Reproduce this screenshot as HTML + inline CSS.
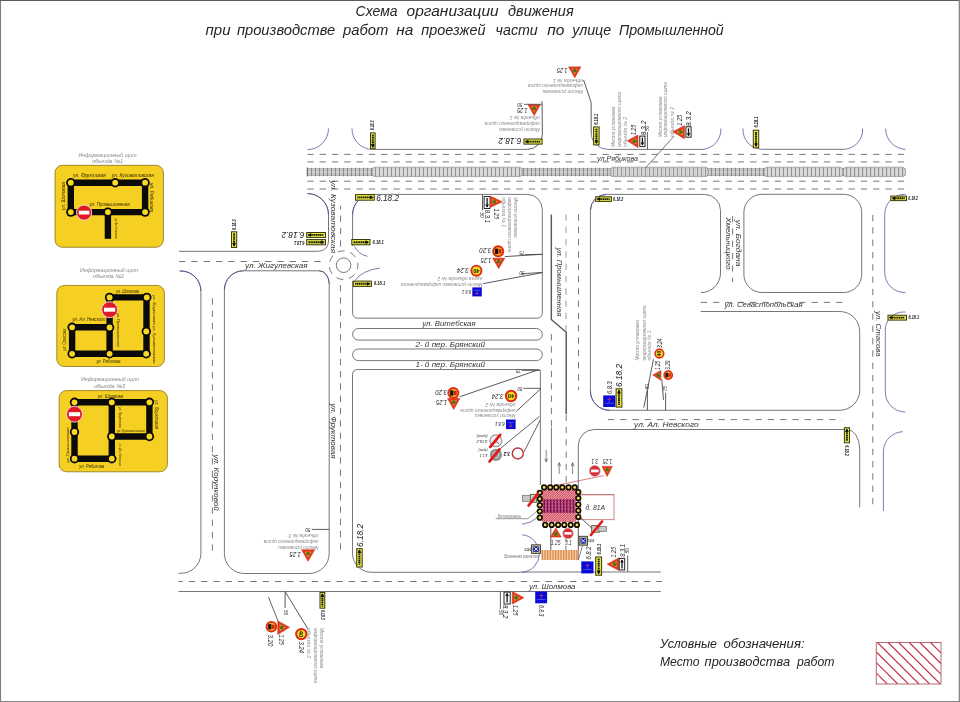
<!DOCTYPE html>
<html><head><meta charset="utf-8"><title>Схема организации движения</title>
<style>
html,body{margin:0;padding:0;background:#fff;}
body{width:960px;height:702px;overflow:hidden;}
svg{display:block;font-family:"Liberation Sans",sans-serif;font-style:italic;will-change:transform;transform:translateZ(0);}
</style></head><body>
<svg width="960" height="702" viewBox="0 0 960 702">
<path d="M0.5,702 V0" stroke="#7c7c7c" stroke-width="1.1" fill="none"/>
<path d="M0,0.5 H960" stroke="#5c5c5c" stroke-width="1.1" fill="none"/>
<path d="M959.35,0 V702" stroke="#858585" stroke-width="1.3" fill="none"/>
<path d="M0,701.5 H960" stroke="#858585" stroke-width="1" fill="none"/>
<text x="355.6" y="16.0" font-size="15" fill="#262626" textLength="42.0" lengthAdjust="spacingAndGlyphs">Схема</text>
<text x="406.6" y="16.0" font-size="15" fill="#262626" textLength="92.1" lengthAdjust="spacingAndGlyphs">организации</text>
<text x="508.1" y="16.0" font-size="15" fill="#262626" textLength="65.6" lengthAdjust="spacingAndGlyphs">движения</text>
<text x="205.6" y="34.5" font-size="15" fill="#262626" textLength="25.0" lengthAdjust="spacingAndGlyphs">при</text>
<text x="236.9" y="34.5" font-size="15" fill="#262626" textLength="98.4" lengthAdjust="spacingAndGlyphs">производстве</text>
<text x="343.1" y="34.5" font-size="15" fill="#262626" textLength="45.3" lengthAdjust="spacingAndGlyphs">работ</text>
<text x="396.3" y="34.5" font-size="15" fill="#262626" textLength="17.1" lengthAdjust="spacingAndGlyphs">на</text>
<text x="421.3" y="34.5" font-size="15" fill="#262626" textLength="64.2" lengthAdjust="spacingAndGlyphs">проезжей</text>
<text x="495.6" y="34.5" font-size="15" fill="#262626" textLength="42.2" lengthAdjust="spacingAndGlyphs">части</text>
<text x="547.2" y="34.5" font-size="15" fill="#262626" textLength="17.2" lengthAdjust="spacingAndGlyphs">по</text>
<text x="572.2" y="34.5" font-size="15" fill="#262626" textLength="39.0" lengthAdjust="spacingAndGlyphs">улице</text>
<text x="619.0" y="34.5" font-size="15" fill="#262626" textLength="104.7" lengthAdjust="spacingAndGlyphs">Промышленной</text>
<text x="660.0" y="647.8" font-size="12.6" fill="#262626" textLength="57.0" lengthAdjust="spacingAndGlyphs">Условные</text>
<text x="723.5" y="647.8" font-size="12.6" fill="#262626" textLength="81.1" lengthAdjust="spacingAndGlyphs">обозначения:</text>
<text x="660.0" y="665.5" font-size="12.6" fill="#262626" textLength="39.4" lengthAdjust="spacingAndGlyphs">Место</text>
<text x="704.6" y="665.5" font-size="12.6" fill="#262626" textLength="85.4" lengthAdjust="spacingAndGlyphs">производства</text>
<text x="796.9" y="665.5" font-size="12.6" fill="#262626" textLength="37.5" lengthAdjust="spacingAndGlyphs">работ</text>
<defs><clipPath id="lg"><rect x="876.3" y="642.5" width="64.7" height="41.5"/></clipPath></defs>
<g clip-path="url(#lg)" stroke="#c02e48" stroke-width="1.1">
<line x1="813.9" y1="642.5" x2="855.4" y2="684"/>
<line x1="824.5" y1="642.5" x2="866.0" y2="684"/>
<line x1="835.1" y1="642.5" x2="876.6" y2="684"/>
<line x1="845.7" y1="642.5" x2="887.2" y2="684"/>
<line x1="856.3" y1="642.5" x2="897.8" y2="684"/>
<line x1="866.9" y1="642.5" x2="908.4" y2="684"/>
<line x1="877.5" y1="642.5" x2="919.0" y2="684"/>
<line x1="888.1" y1="642.5" x2="929.6" y2="684"/>
<line x1="898.7" y1="642.5" x2="940.2" y2="684"/>
<line x1="909.3" y1="642.5" x2="950.8" y2="684"/>
<line x1="919.9" y1="642.5" x2="961.4" y2="684"/>
<line x1="930.5" y1="642.5" x2="972.0" y2="684"/>
<line x1="941.1" y1="642.5" x2="982.6" y2="684"/>
<line x1="951.7" y1="642.5" x2="993.2" y2="684"/>
</g>
<rect x="876.3" y="642.5" width="64.7" height="41.5" fill="none" stroke="#b86a70" stroke-width="1"/>
<text x="78.5" y="156.5" font-size="5.6" fill="#8a8a90" textLength="58.0" lengthAdjust="spacingAndGlyphs">Информационный щит</text>
<text x="92.0" y="163.4" font-size="5.6" fill="#8a8a90" textLength="31.0" lengthAdjust="spacingAndGlyphs">объезда №1</text>
<rect x="55" y="165.3" width="108.4" height="82" rx="7.5" ry="7.5" fill="#f5cf22" stroke="#7a6210" stroke-width="0.7"/>
<line x1="70.8" y1="182.7" x2="145.1" y2="182.7" stroke="#0a0a0a" stroke-width="6.4" stroke-linecap="butt"/>
<line x1="70.8" y1="182.7" x2="70.8" y2="212.1" stroke="#0a0a0a" stroke-width="6.4" stroke-linecap="butt"/>
<line x1="145.1" y1="182.7" x2="145.1" y2="212.1" stroke="#0a0a0a" stroke-width="6.4" stroke-linecap="butt"/>
<line x1="70.8" y1="212.1" x2="145.1" y2="212.1" stroke="#0a0a0a" stroke-width="6.4" stroke-linecap="butt"/>
<line x1="107.9" y1="212.1" x2="107.9" y2="238.8" stroke="#0a0a0a" stroke-width="6.4" stroke-linecap="butt"/>
<circle cx="70.8" cy="182.7" r="4.7" fill="#0a0a0a"/>
<circle cx="70.8" cy="182.7" r="2.9" fill="#f8d822"/>
<circle cx="115.2" cy="182.7" r="4.7" fill="#0a0a0a"/>
<circle cx="115.2" cy="182.7" r="2.9" fill="#f8d822"/>
<circle cx="145.1" cy="182.7" r="4.7" fill="#0a0a0a"/>
<circle cx="145.1" cy="182.7" r="2.9" fill="#f8d822"/>
<circle cx="70.8" cy="212.1" r="4.7" fill="#0a0a0a"/>
<circle cx="70.8" cy="212.1" r="2.9" fill="#f8d822"/>
<circle cx="107.9" cy="212.1" r="4.7" fill="#0a0a0a"/>
<circle cx="107.9" cy="212.1" r="2.9" fill="#f8d822"/>
<circle cx="145.1" cy="212.1" r="4.7" fill="#0a0a0a"/>
<circle cx="145.1" cy="212.1" r="2.9" fill="#f8d822"/>
<circle cx="84.1" cy="212.6" r="7.6" fill="#df1a24" stroke="#fbe4e4" stroke-width="0.9"/>
<rect x="78.8" y="210.7" width="10.6" height="3.8" fill="#fff"/>
<text x="73.3" y="177.0" font-size="4.6" fill="#3a3000" textLength="32.5" lengthAdjust="spacingAndGlyphs">ул. Фруктовая</text>
<text x="111.8" y="177.0" font-size="4.6" fill="#3a3000" textLength="42.0" lengthAdjust="spacingAndGlyphs">ул. Кузоватовская</text>
<text x="89.6" y="206.2" font-size="4.6" fill="#3a3000" textLength="40.0" lengthAdjust="spacingAndGlyphs">ул. Промышленная</text>
<text x="64.6" y="210.0" font-size="4.6" fill="#3a3000" textLength="28.0" lengthAdjust="spacingAndGlyphs" transform="rotate(-90 64.6 210.0)">ул. Шолмова</text>
<text x="150.4" y="183.0" font-size="4.6" fill="#3a3000" textLength="29.0" lengthAdjust="spacingAndGlyphs" transform="rotate(90 150.4 183.0)">ул. Рябикова</text>
<text x="114.5" y="218.6" font-size="4.2" fill="#3a3000" textLength="20.0" lengthAdjust="spacingAndGlyphs" transform="rotate(90 114.5 218.6)">ул. Ал. Невского</text>
<text x="80.0" y="271.5" font-size="5.6" fill="#8a8a90" textLength="58.0" lengthAdjust="spacingAndGlyphs">Информационный щит</text>
<text x="93.0" y="278.4" font-size="5.6" fill="#8a8a90" textLength="31.0" lengthAdjust="spacingAndGlyphs">объезда №2</text>
<rect x="56.8" y="285.4" width="107.6" height="81.1" rx="7.5" ry="7.5" fill="#f5cf22" stroke="#7a6210" stroke-width="0.7"/>
<line x1="109.6" y1="297.4" x2="146.8" y2="297.4" stroke="#0a0a0a" stroke-width="6.4" stroke-linecap="butt"/>
<line x1="146.5" y1="297.4" x2="146.5" y2="353.8" stroke="#0a0a0a" stroke-width="6.4" stroke-linecap="butt"/>
<line x1="72.1" y1="353.8" x2="146.3" y2="353.8" stroke="#0a0a0a" stroke-width="6.4" stroke-linecap="butt"/>
<line x1="72.1" y1="327.3" x2="72.1" y2="353.8" stroke="#0a0a0a" stroke-width="6.4" stroke-linecap="butt"/>
<line x1="72.1" y1="327.3" x2="109.6" y2="327.3" stroke="#0a0a0a" stroke-width="6.4" stroke-linecap="butt"/>
<line x1="109.6" y1="297.4" x2="109.6" y2="353.8" stroke="#0a0a0a" stroke-width="6.4" stroke-linecap="butt"/>
<circle cx="109.6" cy="297.4" r="4.7" fill="#0a0a0a"/>
<circle cx="109.6" cy="297.4" r="2.9" fill="#f8d822"/>
<circle cx="146.8" cy="297.4" r="4.7" fill="#0a0a0a"/>
<circle cx="146.8" cy="297.4" r="2.9" fill="#f8d822"/>
<circle cx="72.1" cy="327.3" r="4.7" fill="#0a0a0a"/>
<circle cx="72.1" cy="327.3" r="2.9" fill="#f8d822"/>
<circle cx="109.6" cy="327.5" r="4.7" fill="#0a0a0a"/>
<circle cx="109.6" cy="327.5" r="2.9" fill="#f8d822"/>
<circle cx="146.3" cy="331.4" r="4.7" fill="#0a0a0a"/>
<circle cx="146.3" cy="331.4" r="2.9" fill="#f8d822"/>
<circle cx="72.1" cy="353.8" r="4.7" fill="#0a0a0a"/>
<circle cx="72.1" cy="353.8" r="2.9" fill="#f8d822"/>
<circle cx="109.6" cy="353.8" r="4.7" fill="#0a0a0a"/>
<circle cx="109.6" cy="353.8" r="2.9" fill="#f8d822"/>
<circle cx="146.2" cy="353.8" r="4.7" fill="#0a0a0a"/>
<circle cx="146.2" cy="353.8" r="2.9" fill="#f8d822"/>
<circle cx="109.6" cy="309.7" r="8" fill="#df1a24" stroke="#fbe4e4" stroke-width="0.9"/>
<rect x="104.0" y="307.7" width="11.2" height="4.0" fill="#fff"/>
<text x="116.0" y="292.6" font-size="4.6" fill="#3a3000" textLength="23.0" lengthAdjust="spacingAndGlyphs">ул. Шолмова</text>
<text x="72.5" y="321.2" font-size="4.6" fill="#3a3000" textLength="33.0" lengthAdjust="spacingAndGlyphs">ул. Ал. Невского</text>
<text x="96.4" y="362.6" font-size="4.6" fill="#3a3000" textLength="24.0" lengthAdjust="spacingAndGlyphs">ул. Рябикова</text>
<text x="65.6" y="350.7" font-size="4.6" fill="#3a3000" textLength="22.0" lengthAdjust="spacingAndGlyphs" transform="rotate(-90 65.6 350.7)">ул. Стасова</text>
<text x="117.1" y="313.0" font-size="4.2" fill="#3a3000" textLength="33.5" lengthAdjust="spacingAndGlyphs" transform="rotate(90 117.1 313.0)">ул. Промышленная</text>
<text x="152.6" y="295.0" font-size="4.4" fill="#3a3000" textLength="68.5" lengthAdjust="spacingAndGlyphs" transform="rotate(90 152.6 295.0)">ул. Фруктовая  ул. Кузоватовская</text>
<text x="81.0" y="381.0" font-size="5.6" fill="#8a8a90" textLength="58.0" lengthAdjust="spacingAndGlyphs">Информационный щит</text>
<text x="94.0" y="387.6" font-size="5.6" fill="#8a8a90" textLength="31.0" lengthAdjust="spacingAndGlyphs">объезда №3</text>
<rect x="59.1" y="390.6" width="108.3" height="81.2" rx="7.5" ry="7.5" fill="#f5cf22" stroke="#7a6210" stroke-width="0.7"/>
<line x1="74.5" y1="402.3" x2="149.4" y2="402.3" stroke="#0a0a0a" stroke-width="6.4" stroke-linecap="butt"/>
<line x1="74.5" y1="402.3" x2="74.5" y2="458.7" stroke="#0a0a0a" stroke-width="6.4" stroke-linecap="butt"/>
<line x1="74.5" y1="458.7" x2="111.8" y2="458.7" stroke="#0a0a0a" stroke-width="6.4" stroke-linecap="butt"/>
<line x1="111.8" y1="402.3" x2="111.8" y2="458.7" stroke="#0a0a0a" stroke-width="6.4" stroke-linecap="butt"/>
<line x1="111.8" y1="436.5" x2="149.4" y2="436.5" stroke="#0a0a0a" stroke-width="6.4" stroke-linecap="butt"/>
<line x1="149.4" y1="402.3" x2="149.4" y2="436.5" stroke="#0a0a0a" stroke-width="6.4" stroke-linecap="butt"/>
<circle cx="74.5" cy="402.3" r="4.7" fill="#0a0a0a"/>
<circle cx="74.5" cy="402.3" r="2.9" fill="#f8d822"/>
<circle cx="111.8" cy="402.3" r="4.7" fill="#0a0a0a"/>
<circle cx="111.8" cy="402.3" r="2.9" fill="#f8d822"/>
<circle cx="149.4" cy="402.3" r="4.7" fill="#0a0a0a"/>
<circle cx="149.4" cy="402.3" r="2.9" fill="#f8d822"/>
<circle cx="74.5" cy="432" r="4.7" fill="#0a0a0a"/>
<circle cx="74.5" cy="432" r="2.9" fill="#f8d822"/>
<circle cx="111.8" cy="436.5" r="4.7" fill="#0a0a0a"/>
<circle cx="111.8" cy="436.5" r="2.9" fill="#f8d822"/>
<circle cx="149.4" cy="436.5" r="4.7" fill="#0a0a0a"/>
<circle cx="149.4" cy="436.5" r="2.9" fill="#f8d822"/>
<circle cx="74.5" cy="458.7" r="4.7" fill="#0a0a0a"/>
<circle cx="74.5" cy="458.7" r="2.9" fill="#f8d822"/>
<circle cx="111.8" cy="458.7" r="4.7" fill="#0a0a0a"/>
<circle cx="111.8" cy="458.7" r="2.9" fill="#f8d822"/>
<circle cx="74.5" cy="414.2" r="8" fill="#df1a24" stroke="#fbe4e4" stroke-width="0.9"/>
<rect x="68.9" y="412.2" width="11.2" height="4.0" fill="#fff"/>
<text x="98.0" y="397.9" font-size="4.6" fill="#3a3000" textLength="25.0" lengthAdjust="spacingAndGlyphs">ул. Шолмова</text>
<text x="79.3" y="467.5" font-size="4.6" fill="#3a3000" textLength="25.0" lengthAdjust="spacingAndGlyphs">ул. Рябикова</text>
<text x="117.0" y="432.3" font-size="4.2" fill="#3a3000" textLength="28.0" lengthAdjust="spacingAndGlyphs">ул. Кузоватовская</text>
<text x="154.6" y="400.0" font-size="4.6" fill="#3a3000" textLength="29.0" lengthAdjust="spacingAndGlyphs" transform="rotate(90 154.6 400.0)">ул. Фруктовая</text>
<text x="118.8" y="407.0" font-size="4.2" fill="#3a3000" textLength="21.0" lengthAdjust="spacingAndGlyphs" transform="rotate(90 118.8 407.0)">ул. Фруктовая</text>
<text x="118.8" y="443.6" font-size="4.2" fill="#3a3000" textLength="22.3" lengthAdjust="spacingAndGlyphs" transform="rotate(90 118.8 443.6)">ул. Ал. Невского</text>
<text x="68.6" y="462.4" font-size="4.4" fill="#3a3000" textLength="35.0" lengthAdjust="spacingAndGlyphs" transform="rotate(-90 68.6 462.4)">ул. Промышленная</text>
<rect x="307" y="168.6" width="598.5" height="6.9" fill="#d4d4d4"/>
<path d="M307,168.6 H905.5 M307,175.5 H905.5" stroke="#8a8a8a" stroke-width="0.6" fill="none"/>
<path d="M307,170.5 H905.5 M307,173.7 H905.5" stroke="#a2a2a2" stroke-width="0.5" fill="none"/>
<line x1="307" y1="172.05" x2="905.5" y2="172.05" stroke="#747474" stroke-width="8.4" stroke-dasharray="0.7 3.3"/>
<rect x="372" y="167.2" width="150.3" height="9.4" rx="3" ry="4.7" fill="#dcdcdc" fill-opacity="0.8" stroke="#77778a" stroke-width="0.6"/>
<line x1="375" y1="171.9" x2="520.3" y2="171.9" stroke="#7a7a7a" stroke-width="8.6" stroke-dasharray="0.7 3.3"/>
<rect x="610.3" y="167.2" width="98.0" height="9.4" rx="3" ry="4.7" fill="#dcdcdc" fill-opacity="0.8" stroke="#77778a" stroke-width="0.6"/>
<line x1="613.3" y1="171.9" x2="706.3" y2="171.9" stroke="#7a7a7a" stroke-width="8.6" stroke-dasharray="0.7 3.3"/>
<rect x="764" y="167.2" width="79.0" height="9.4" rx="3" ry="4.7" fill="#dcdcdc" fill-opacity="0.8" stroke="#77778a" stroke-width="0.6"/>
<line x1="767" y1="171.9" x2="841" y2="171.9" stroke="#7a7a7a" stroke-width="8.6" stroke-dasharray="0.7 3.3"/>
<rect x="843" y="167.2" width="62.5" height="9.4" rx="3" ry="4.7" fill="#dcdcdc" fill-opacity="0.8" stroke="#77778a" stroke-width="0.6"/>
<line x1="846" y1="171.9" x2="903.5" y2="171.9" stroke="#7a7a7a" stroke-width="8.6" stroke-dasharray="0.7 3.3"/>
<line x1="307.2" y1="167.6" x2="307.2" y2="176.4" stroke="#555" stroke-width="0.8"/>
<line x1="307.0" y1="154.4" x2="905.5" y2="154.4" stroke="#787878" stroke-width="1.0" stroke-dasharray="6.35 5.95" stroke-dashoffset="-0.3"/>
<line x1="307.0" y1="161.9" x2="905.5" y2="161.9" stroke="#787878" stroke-width="1.0" stroke-dasharray="6.35 5.95" stroke-dashoffset="-0.3"/>
<line x1="307.0" y1="181.2" x2="905.5" y2="181.2" stroke="#787878" stroke-width="1.0" stroke-dasharray="6.35 5.95" stroke-dashoffset="-0.3"/>
<line x1="307.0" y1="189.0" x2="905.5" y2="189.0" stroke="#787878" stroke-width="1.0" stroke-dasharray="6.35 5.95" stroke-dashoffset="-0.3"/>
<path d="M328.5,128.5 A21,21 0 0 1 307.5,149.6" stroke="#44448c" stroke-width="0.7" fill="none" />
<path d="M352,128.5 A20.6,20.6 0 0 0 372.6,149.4" stroke="#44448c" stroke-width="0.7" fill="none" />
<path d="M372.6,149.4 H527.5" stroke="#53535a" stroke-width="0.8" fill="none" />
<path d="M527.5,149.4 A15.2,15.2 0 0 0 542.4,134.2 L542,101" stroke="#3c3c42" stroke-width="0.85" fill="none" />
<path d="M591.2,133 A16.6,16.6 0 0 0 607.8,149.4" stroke="#44448c" stroke-width="0.7" fill="none" />
<path d="M591.2,133 L591.1,102.4 L583.6,80" stroke="#3c3c42" stroke-width="0.85" fill="none" />
<path d="M607.8,149.4 H703" stroke="#53535a" stroke-width="0.8" fill="none" />
<path d="M703,149.4 A20,20 0 0 0 720.9,128.5" stroke="#44448c" stroke-width="0.7" fill="none" />
<path d="M743,128.5 A19.5,19.5 0 0 0 761.5,149.3" stroke="#44448c" stroke-width="0.7" fill="none" />
<path d="M761.5,149.3 H844" stroke="#53535a" stroke-width="0.8" fill="none" />
<path d="M844,149.3 A19.5,19.5 0 0 0 862.6,128.5" stroke="#44448c" stroke-width="0.7" fill="none" />
<path d="M885.6,128.5 A20.6,20.6 0 0 0 905.6,149.3" stroke="#44448c" stroke-width="0.7" fill="none" />
<path d="M307.5,193.6 A21,21 0 0 1 328.5,214.6 V241.3 A10,10 0 0 1 318.5,251.3 H179" stroke="#53535a" stroke-width="0.8" fill="none" />
<path d="M307.5,193.6 A21,21 0 0 1 328.5,214.6" stroke="#44448c" stroke-width="0.7" fill="none" />
<line x1="179.0" y1="261.5" x2="321.0" y2="261.5" stroke="#787878" stroke-width="1.0" stroke-dasharray="6.35 5.95" stroke-dashoffset="0"/>
<path d="M179.7,271 H181 A20,20 0 0 1 200.9,291 V553.5 A20,20 0 0 1 180.8,573.3 H178.5" stroke="#53535a" stroke-width="0.8" fill="none" />
<path d="M243.4,270.8 H319.2 A10,13 0 0 1 329.2,283.8 V553.5 A20,20 0 0 1 309.2,573.5 H244.4 A20,20 0 0 1 224.4,553.5 V289.8 A19,19 0 0 1 243.4,270.8Z" stroke="#53535a" stroke-width="0.8" fill="none" />
<path d="M319.2,270.8 A10,13 0 0 1 329.2,283.8" stroke="#44448c" stroke-width="0.7" fill="none" />
<path d="M243.4,270.8 A19,19 0 0 0 224.4,289.8" stroke="#44448c" stroke-width="0.7" fill="none" />
<path d="M179.7,271 H181 A20,20 0 0 1 200.9,291" stroke="#44448c" stroke-width="0.7" fill="none" />
<line x1="212.4" y1="298.3" x2="212.4" y2="553.0" stroke="#787878" stroke-width="1.0" stroke-dasharray="6.35 5.95" stroke-dashoffset="0"/>
<line x1="340.6" y1="205.6" x2="340.6" y2="246.6" stroke="#787878" stroke-width="1.0" stroke-dasharray="6.35 5.95" stroke-dashoffset="2.3"/>
<line x1="340.5" y1="285.0" x2="340.5" y2="552.0" stroke="#787878" stroke-width="1.0" stroke-dasharray="6.35 5.95" stroke-dashoffset="0"/>
<circle cx="343.6" cy="265.2" r="7.3" fill="none" stroke="#53535a" stroke-width="0.8"/>
<circle cx="343.6" cy="265.2" r="14.3" fill="none" stroke="#6a6a6a" stroke-width="0.9" stroke-dasharray="7 5.8" stroke-dashoffset="3"/>
<path d="M354.4,246.3 Q358.5,254.5 367.5,256.3" stroke="#44448c" stroke-width="0.7" fill="none" />
<path d="M380,268.1 Q362,270.2 355,280.6" stroke="#44448c" stroke-width="0.7" fill="none" />
<path d="M352.6,246 V214.4 A20,20 0 0 1 372.6,194.4 H527.3 A15,15 0 0 1 542.3,209.4 V313.2 A5,5 0 0 1 537.3,318.2 H357.6 A5,5 0 0 1 352.6,313.2 V281" stroke="#53535a" stroke-width="0.8" fill="none" />
<path d="M372.6,194.4 A20,20 0 0 0 352.6,214.4" stroke="#44448c" stroke-width="0.7" fill="none" />
<rect x="352.6" y="328.5" width="189.7" height="11.6" rx="5.8" fill="none" stroke="#53535a" stroke-width="0.8"/>
<rect x="352.6" y="349" width="189.7" height="11.6" rx="5.8" fill="none" stroke="#53535a" stroke-width="0.8"/>
<path d="M540.4,485 V371.5 A2,2 0 0 0 538.4,369.5 H357.5 A5,5 0 0 0 352.5,374.5 V553.5 A19,19 0 0 0 371.5,572.3 H521" stroke="#53535a" stroke-width="0.8" fill="none" />
<path d="M521,572 H660.8" stroke="#53535a" stroke-width="0.8" fill="none" />
<line x1="178.5" y1="581.5" x2="662.0" y2="581.5" stroke="#787878" stroke-width="1.0" stroke-dasharray="6.35 5.95" stroke-dashoffset="2"/>
<path d="M178.5,591.5 H660.8" stroke="#53535a" stroke-width="0.8" fill="none" />
<path d="M701,292.6 A19.5,19.5 0 0 0 720.5,273 V210.4 A16,16 0 0 0 704.5,194.4 H606.4 A16,16 0 0 0 590.4,210.4 V391 A19.4,19.4 0 0 0 609.8,410.3 H839.7 A20,20 0 0 0 859.7,390.3 V331.5 A20,20 0 0 0 839.7,311.5 H700.8" stroke="#53535a" stroke-width="0.8" fill="none" />
<path d="M606.4,194.4 A16,16 0 0 0 590.4,210.4" stroke="#44448c" stroke-width="0.7" fill="none" />
<path d="M590.4,391 A19.4,19.4 0 0 0 609.8,410.3" stroke="#44448c" stroke-width="0.7" fill="none" />
<line x1="700.8" y1="302.4" x2="843.0" y2="302.4" stroke="#787878" stroke-width="1.0" stroke-dasharray="6.35 5.95" stroke-dashoffset="0"/>
<rect x="743.9" y="194.3" width="117.8" height="98.2" rx="18" fill="none" stroke="#53535a" stroke-width="0.8"/>
<path d="M905.6,194.3 H904.7 A20,20 0 0 0 884.7,214.3 V272.5 A20,20 0 0 0 904.7,292.5 H905.6" stroke="#44448c" stroke-width="0.7" fill="none" />
<path d="M905.6,312 H903.3 A18,18 0 0 0 885.3,330 V392 A20,20 0 0 0 905.3,412" stroke="#44448c" stroke-width="0.7" fill="none" />
<path d="M903,431.7 A20,20 0 0 0 883.4,451.7 V511" stroke="#44448c" stroke-width="0.7" fill="none" />
<line x1="732.6" y1="216.0" x2="732.6" y2="282.0" stroke="#787878" stroke-width="1.0" stroke-dasharray="6.35 5.95" stroke-dashoffset="0"/>
<line x1="872.8" y1="215.0" x2="872.8" y2="508.0" stroke="#787878" stroke-width="1.0" stroke-dasharray="6.35 5.95" stroke-dashoffset="0"/>
<line x1="607.8" y1="419.6" x2="842.0" y2="419.6" stroke="#787878" stroke-width="1.0" stroke-dasharray="6.35 5.95" stroke-dashoffset="0"/>
<path d="M578.3,486 V445.5 A16,16 0 0 1 594.3,429.5 H847 A12.7,19.5 0 0 1 859.7,449 V507.2" stroke="#53535a" stroke-width="0.8" fill="none" />
<line x1="566.0" y1="214.4" x2="566.0" y2="332.0" stroke="#9a9a9a" stroke-width="1.0" stroke-dasharray="6.35 5.95" stroke-dashoffset="0"/>
<line x1="566.2" y1="414.6" x2="566.2" y2="486.0" stroke="#787878" stroke-width="1.0" stroke-dasharray="6.35 5.95" stroke-dashoffset="0"/>
<line x1="578.5" y1="214.4" x2="578.5" y2="390.0" stroke="#787878" stroke-width="1.0" stroke-dasharray="6.35 5.95" stroke-dashoffset="0"/>
<line x1="551.4" y1="334.0" x2="551.4" y2="427.0" stroke="#787878" stroke-width="1.0" stroke-dasharray="6.35 5.95" stroke-dashoffset="0"/>
<line x1="551.4" y1="427.4" x2="551.4" y2="486.0" stroke="#53535a" stroke-width="0.8" />
<path d="M551.3,214.4 V319.5 L566.2,332.3 V414" stroke="#5c5c5c" stroke-width="1.5" fill="none" />
<line x1="546.2" y1="449.9" x2="546.2" y2="462.0" stroke="#555" stroke-width="0.7" />
<path d="M544.7,458.5 L546.2,462.0 L547.7,458.5" stroke="#555" stroke-width="0.7" fill="none" />
<line x1="559.2" y1="474.0" x2="559.2" y2="462.7" stroke="#555" stroke-width="0.7" />
<path d="M557.7,466.2 L559.2,462.7 L560.7,466.2" stroke="#555" stroke-width="0.7" fill="none" />
<line x1="572.6" y1="474.0" x2="572.6" y2="462.7" stroke="#555" stroke-width="0.7" />
<path d="M571.1,466.2 L572.6,462.7 L574.1,466.2" stroke="#555" stroke-width="0.7" fill="none" />
<text x="597.0" y="160.9" font-size="7.9" fill="#333" textLength="41.0" lengthAdjust="spacingAndGlyphs">ул.Рябикова</text>
<text x="245.0" y="267.7" font-size="7.9" fill="#333" textLength="62.7" lengthAdjust="spacingAndGlyphs">ул. Жигулевская</text>
<text x="422.3" y="326.1" font-size="7.9" fill="#333" textLength="53.3" lengthAdjust="spacingAndGlyphs">ул. Витебская</text>
<text x="415.4" y="346.6" font-size="7.9" fill="#333" textLength="69.7" lengthAdjust="spacingAndGlyphs">2- й пер. Брянский</text>
<text x="415.4" y="367.2" font-size="7.9" fill="#333" textLength="69.7" lengthAdjust="spacingAndGlyphs">1- й пер. Брянский</text>
<text x="724.4" y="307.4" font-size="7.9" fill="#333" textLength="78.4" lengthAdjust="spacingAndGlyphs">ул. Севастопольская</text>
<text x="634.1" y="427.2" font-size="7.9" fill="#333" textLength="64.5" lengthAdjust="spacingAndGlyphs">ул. Ал. Невского</text>
<text x="529.0" y="588.6" font-size="7.9" fill="#333" textLength="46.4" lengthAdjust="spacingAndGlyphs">ул. Шолмова</text>
<text x="330.8" y="180.5" font-size="7.9" fill="#333" textLength="72.6" lengthAdjust="spacingAndGlyphs" transform="rotate(90 330.8 180.5)">ул. Кузоватовская</text>
<text x="556.5" y="247.4" font-size="7.9" fill="#333" textLength="69.0" lengthAdjust="spacingAndGlyphs" transform="rotate(90 556.5 247.4)">ул. Промышленная</text>
<text x="725.8" y="217.5" font-size="7.9" fill="#333" textLength="52.0" lengthAdjust="spacingAndGlyphs" transform="rotate(90 725.8 217.5)">Хмельницкого</text>
<text x="735.7" y="219.8" font-size="7.9" fill="#333" textLength="46.7" lengthAdjust="spacingAndGlyphs" transform="rotate(90 735.7 219.8)">ул. Богдана</text>
<text x="875.8" y="311.0" font-size="7.9" fill="#333" textLength="45.5" lengthAdjust="spacingAndGlyphs" transform="rotate(90 875.8 311.0)">ул. Стасова</text>
<text x="331.3" y="403.3" font-size="7.9" fill="#333" textLength="55.2" lengthAdjust="spacingAndGlyphs" transform="rotate(90 331.3 403.3)">ул. Фруктовая</text>
<text x="213.9" y="454.6" font-size="7.9" fill="#333" textLength="56.2" lengthAdjust="spacingAndGlyphs" transform="rotate(90 213.9 454.6)">ул. Корунковой</text>
<rect x="370.5" y="132.9" width="4.6" height="15.8" fill="#e9e648" stroke="#3a3a0c" stroke-width="1"/>
<line x1="372.8" y1="134.7" x2="372.8" y2="146.9" stroke="#15150a" stroke-width="1.9" stroke-dasharray="1.4 0.45"/>
<path d="M372.8,147.9 l-1.9,-3.6 h3.8z" fill="#111"/>
<text x="374.4" y="130.3" font-size="4.6" fill="#111" textLength="9.8" lengthAdjust="spacingAndGlyphs" transform="rotate(-90 374.4 130.3)" font-weight="bold">6.18.3</text>
<rect x="523.9" y="139.0" width="18.2" height="5.1" fill="#e9e648" stroke="#3a3a0c" stroke-width="1"/>
<line x1="525.7" y1="141.6" x2="540.3" y2="141.6" stroke="#15150a" stroke-width="1.9" stroke-dasharray="1.4 0.45"/>
<path d="M524.7,141.6 l3.6,-1.9 v3.8z" fill="#111"/>
<text x="521.4" y="138.4" font-size="9.0" fill="#222" textLength="23.0" lengthAdjust="spacingAndGlyphs" transform="rotate(180 521.4 138.4)">6.18.2</text>
<path d="M528.2,104.8L540.3,104.8L534.2,115.6Z" fill="#dc3a1c" stroke="#dc3a1c" stroke-width="0.7" stroke-linejoin="round"/>
<path d="M531.2,106.6L537.3,106.6L534.2,112.0Z" fill="#f0a82a"/>
<circle cx="534.2" cy="108.4" r="1.9" fill="#5a6a1e"/>
<text x="527.5" y="107.6" font-size="8.0" fill="#222" textLength="10.3" lengthAdjust="spacingAndGlyphs" transform="rotate(180 527.5 107.6)">1.25</text>
<text x="522.5" y="102.7" font-size="5.4" fill="#334" textLength="5.2" lengthAdjust="spacingAndGlyphs" transform="rotate(180 522.5 102.7)">50</text>
<line x1="524.0" y1="104.3" x2="541.7" y2="104.3" stroke="#3c3c42" stroke-width="0.8" />
<text x="539.7" y="116.1" font-size="5.0" fill="#8a8a90" textLength="30.0" lengthAdjust="spacingAndGlyphs" transform="rotate(180 539.7 116.1)">объезда № 1</text>
<text x="539.7" y="122.2" font-size="5.0" fill="#8a8a90" textLength="55.0" lengthAdjust="spacingAndGlyphs" transform="rotate(180 539.7 122.2)">информационного щита</text>
<text x="539.7" y="127.6" font-size="5.0" fill="#8a8a90" textLength="40.5" lengthAdjust="spacingAndGlyphs" transform="rotate(180 539.7 127.6)">Место установки</text>
<path d="M568.7,66.9L580.9,66.9L574.8,77.7Z" fill="#dc3a1c" stroke="#dc3a1c" stroke-width="0.7" stroke-linejoin="round"/>
<path d="M571.8,68.7L577.8,68.7L574.8,74.1Z" fill="#f0a82a"/>
<circle cx="574.8" cy="70.5" r="1.9" fill="#5a6a1e"/>
<text x="567.4" y="68.1" font-size="8.0" fill="#222" textLength="10.3" lengthAdjust="spacingAndGlyphs" transform="rotate(180 567.4 68.1)">1.25</text>
<text x="583.0" y="78.6" font-size="5.0" fill="#8a8a90" textLength="30.0" lengthAdjust="spacingAndGlyphs" transform="rotate(180 583.0 78.6)">объезда № 1</text>
<text x="583.0" y="84.3" font-size="5.0" fill="#8a8a90" textLength="55.0" lengthAdjust="spacingAndGlyphs" transform="rotate(180 583.0 84.3)">информационного щита</text>
<text x="583.0" y="90.0" font-size="5.0" fill="#8a8a90" textLength="40.5" lengthAdjust="spacingAndGlyphs" transform="rotate(180 583.0 90.0)">Место установки</text>
<rect x="593.6" y="126.9" width="5.5" height="18.0" fill="#e9e648" stroke="#3a3a0c" stroke-width="1"/>
<line x1="596.4" y1="128.7" x2="596.4" y2="143.1" stroke="#15150a" stroke-width="1.9" stroke-dasharray="1.4 0.45"/>
<path d="M596.4,144.1 l-1.9,-3.6 h3.8z" fill="#111"/>
<text x="598.1" y="124.7" font-size="4.6" fill="#111" textLength="11.0" lengthAdjust="spacingAndGlyphs" transform="rotate(-90 598.1 124.7)" font-weight="bold">6.18.1</text>
<text x="615.3" y="147.0" font-size="5.0" fill="#8a8a90" textLength="40.5" lengthAdjust="spacingAndGlyphs" transform="rotate(-90 615.3 147.0)">Место установки</text>
<text x="621.1" y="147.0" font-size="5.0" fill="#8a8a90" textLength="55.0" lengthAdjust="spacingAndGlyphs" transform="rotate(-90 621.1 147.0)">информационного щита</text>
<text x="626.8" y="147.0" font-size="5.0" fill="#8a8a90" textLength="30.0" lengthAdjust="spacingAndGlyphs" transform="rotate(-90 626.8 147.0)">объезда № 2</text>
<path d="M627.3,140.8L638.0,135.1L638.0,147.6Z" fill="#dc3a1c" stroke="#dc3a1c" stroke-width="0.7" stroke-linejoin="round"/>
<path d="M630.9,141.0L636.2,138.1L636.2,144.4Z" fill="#f0a82a"/>
<circle cx="634.4" cy="141.2" r="1.9" fill="#5a6a1e"/>
<text x="636.0" y="135.1" font-size="8.0" fill="#222" textLength="10.4" lengthAdjust="spacingAndGlyphs" transform="rotate(-90 636.0 135.1)">1.25</text>
<rect x="639.8" y="136.1" width="5.2" height="10.5" fill="#fff" stroke="#111" stroke-width="0.9"/>
<line x1="642.4" y1="137.6" x2="642.4" y2="145.1" stroke="#111" stroke-width="1.3"/>
<path d="M642.4,145.6 l-1.9,-3 h3.8z" fill="#111"/>
<text x="645.6" y="135.6" font-size="8.0" fill="#222" textLength="15.0" lengthAdjust="spacingAndGlyphs" transform="rotate(-90 645.6 135.6)">8.3.2</text>
<text x="649.3" y="131.0" font-size="5.4" fill="#334" textLength="5.2" lengthAdjust="spacingAndGlyphs" transform="rotate(-90 649.3 131.0)">50</text>
<line x1="647.4" y1="132.0" x2="647.4" y2="149.4" stroke="#3c3c42" stroke-width="0.85" />
<text x="661.7" y="137.0" font-size="5.0" fill="#8a8a90" textLength="40.5" lengthAdjust="spacingAndGlyphs" transform="rotate(-90 661.7 137.0)">Место установки</text>
<text x="667.4" y="137.0" font-size="5.0" fill="#8a8a90" textLength="55.0" lengthAdjust="spacingAndGlyphs" transform="rotate(-90 667.4 137.0)">информационного щита</text>
<text x="673.7" y="137.0" font-size="5.0" fill="#8a8a90" textLength="30.0" lengthAdjust="spacingAndGlyphs" transform="rotate(-90 673.7 137.0)">объезда № 2</text>
<path d="M672.9,131.7L684.4,125.7L684.4,138.8Z" fill="#dc3a1c" stroke="#dc3a1c" stroke-width="0.7" stroke-linejoin="round"/>
<path d="M676.7,131.9L682.5,128.9L682.5,135.4Z" fill="#f0a82a"/>
<circle cx="680.6" cy="132.0" r="1.9" fill="#5a6a1e"/>
<text x="681.9" y="125.7" font-size="8.0" fill="#222" textLength="10.8" lengthAdjust="spacingAndGlyphs" transform="rotate(-90 681.9 125.7)">1.25</text>
<rect x="685.9" y="126.8" width="5.2" height="10.4" fill="#fff" stroke="#111" stroke-width="0.9"/>
<line x1="688.5" y1="128.3" x2="688.5" y2="135.7" stroke="#111" stroke-width="1.3"/>
<path d="M688.5,136.2 l-1.9,-3 h3.8z" fill="#111"/>
<text x="691.2" y="126.2" font-size="8.0" fill="#222" textLength="15.0" lengthAdjust="spacingAndGlyphs" transform="rotate(-90 691.2 126.2)">8.3.2</text>
<line x1="674.0" y1="136.1" x2="645.4" y2="168.0" stroke="#53535a" stroke-width="0.8" />
<rect x="753.3" y="130.2" width="5.4" height="17.6" fill="#e9e648" stroke="#3a3a0c" stroke-width="1"/>
<line x1="756.0" y1="132.0" x2="756.0" y2="146.0" stroke="#15150a" stroke-width="1.9" stroke-dasharray="1.4 0.45"/>
<path d="M756.0,147.0 l-1.9,-3.6 h3.8z" fill="#111"/>
<text x="757.6" y="127.5" font-size="4.6" fill="#111" textLength="11.0" lengthAdjust="spacingAndGlyphs" transform="rotate(-90 757.6 127.5)" font-weight="bold">6.18.1</text>
<rect x="355.5" y="194.6" width="18.8" height="5.6" fill="#e9e648" stroke="#3a3a0c" stroke-width="1"/>
<line x1="357.3" y1="197.4" x2="372.5" y2="197.4" stroke="#15150a" stroke-width="1.9" stroke-dasharray="1.4 0.45"/>
<path d="M373.5,197.4 l-3.6,-1.9 v3.8z" fill="#111"/>
<text x="376.2" y="200.7" font-size="9.0" fill="#222" textLength="22.8" lengthAdjust="spacingAndGlyphs">6.18.2</text>
<rect x="595.7" y="196.8" width="15.7" height="4.6" fill="#e9e648" stroke="#3a3a0c" stroke-width="1"/>
<line x1="597.5" y1="199.1" x2="609.6" y2="199.1" stroke="#15150a" stroke-width="1.9" stroke-dasharray="1.4 0.45"/>
<path d="M596.5,199.1 l3.6,-1.9 v3.8z" fill="#111"/>
<text x="613.1" y="201.0" font-size="4.6" fill="#111" textLength="10.3" lengthAdjust="spacingAndGlyphs" font-weight="bold">6.18.2</text>
<rect x="890.8" y="196.1" width="15.7" height="4.5" fill="#e9e648" stroke="#3a3a0c" stroke-width="1"/>
<line x1="892.6" y1="198.3" x2="904.7" y2="198.3" stroke="#15150a" stroke-width="1.9" stroke-dasharray="1.4 0.45"/>
<path d="M891.6,198.3 l3.6,-1.9 v3.8z" fill="#111"/>
<text x="908.3" y="200.0" font-size="4.6" fill="#111" textLength="9.7" lengthAdjust="spacingAndGlyphs" font-weight="bold">6.18.2</text>
<rect x="888.0" y="315.2" width="18.5" height="4.9" fill="#e9e648" stroke="#3a3a0c" stroke-width="1"/>
<line x1="889.8" y1="317.6" x2="904.7" y2="317.6" stroke="#15150a" stroke-width="1.9" stroke-dasharray="1.4 0.45"/>
<path d="M888.8,317.6 l3.6,-1.9 v3.8z" fill="#111"/>
<text x="908.5" y="319.4" font-size="4.6" fill="#111" textLength="10.5" lengthAdjust="spacingAndGlyphs" font-weight="bold">6.18.1</text>
<rect x="306.7" y="232.5" width="18.8" height="4.9" fill="#e9e648" stroke="#3a3a0c" stroke-width="1"/>
<line x1="308.5" y1="234.9" x2="323.7" y2="234.9" stroke="#15150a" stroke-width="1.9" stroke-dasharray="1.4 0.45"/>
<path d="M307.5,234.9 l3.6,-1.9 v3.8z" fill="#111"/>
<text x="304.6" y="231.7" font-size="9.0" fill="#222" textLength="23.0" lengthAdjust="spacingAndGlyphs" transform="rotate(180 304.6 231.7)">6.18.2</text>
<rect x="306.7" y="239.6" width="18.8" height="5.2" fill="#e9e648" stroke="#3a3a0c" stroke-width="1"/>
<line x1="308.5" y1="242.2" x2="323.7" y2="242.2" stroke="#15150a" stroke-width="1.9" stroke-dasharray="1.4 0.45"/>
<path d="M324.7,242.2 l-3.6,-1.9 v3.8z" fill="#111"/>
<text x="304.6" y="240.6" font-size="4.6" fill="#111" textLength="10.5" lengthAdjust="spacingAndGlyphs" transform="rotate(180 304.6 240.6)" font-weight="bold">6.18.1</text>
<rect x="351.8" y="239.5" width="18.2" height="5.3" fill="#e9e648" stroke="#3a3a0c" stroke-width="1"/>
<line x1="353.6" y1="242.2" x2="368.2" y2="242.2" stroke="#15150a" stroke-width="1.9" stroke-dasharray="1.4 0.45"/>
<path d="M369.2,242.2 l-3.6,-1.9 v3.8z" fill="#111"/>
<text x="372.6" y="243.8" font-size="4.6" fill="#111" textLength="11.2" lengthAdjust="spacingAndGlyphs" font-weight="bold">6.18.1</text>
<rect x="353.3" y="281.1" width="18.1" height="5.3" fill="#e9e648" stroke="#3a3a0c" stroke-width="1"/>
<line x1="355.1" y1="283.8" x2="369.6" y2="283.8" stroke="#15150a" stroke-width="1.9" stroke-dasharray="1.4 0.45"/>
<path d="M370.6,283.8 l-3.6,-1.9 v3.8z" fill="#111"/>
<text x="374.0" y="285.4" font-size="4.6" fill="#111" textLength="11.2" lengthAdjust="spacingAndGlyphs" font-weight="bold">6.18.1</text>
<rect x="231.5" y="231.8" width="5.2" height="15.7" fill="#e9e648" stroke="#3a3a0c" stroke-width="1"/>
<line x1="234.1" y1="233.6" x2="234.1" y2="245.7" stroke="#15150a" stroke-width="1.9" stroke-dasharray="1.4 0.45"/>
<path d="M234.1,246.7 l-1.9,-3.6 h3.8z" fill="#111"/>
<text x="235.7" y="230.0" font-size="4.6" fill="#111" textLength="10.6" lengthAdjust="spacingAndGlyphs" transform="rotate(-90 235.7 230.0)" font-weight="bold">6.18.3</text>
<line x1="482.5" y1="194.4" x2="482.5" y2="210.4" stroke="#3c3c42" stroke-width="0.85" />
<rect x="484.1" y="196.6" width="5.9" height="11.9" fill="#fff" stroke="#111" stroke-width="0.9"/>
<line x1="487.1" y1="198.1" x2="487.1" y2="207.0" stroke="#111" stroke-width="1.3"/>
<path d="M487.1,207.5 l-1.9,-3 h3.8z" fill="#111"/>
<path d="M490.6,196.3L490.6,207.3L502.1,201.8Z" fill="#dc3a1c" stroke="#dc3a1c" stroke-width="0.7" stroke-linejoin="round"/>
<path d="M492.5,199.1L492.5,204.6L498.3,201.8Z" fill="#f0a82a"/>
<circle cx="494.4" cy="201.8" r="1.9" fill="#5a6a1e"/>
<text x="493.7" y="208.6" font-size="8.0" fill="#222" textLength="10.4" lengthAdjust="spacingAndGlyphs" transform="rotate(90 493.7 208.6)">1.25</text>
<text x="485.1" y="209.8" font-size="8.0" fill="#222" textLength="13.3" lengthAdjust="spacingAndGlyphs" transform="rotate(90 485.1 209.8)">8.3.1</text>
<text x="479.9" y="212.5" font-size="5.4" fill="#334" textLength="5.2" lengthAdjust="spacingAndGlyphs" transform="rotate(90 479.9 212.5)">50</text>
<text x="513.7" y="197.2" font-size="5.0" fill="#8a8a90" textLength="40.5" lengthAdjust="spacingAndGlyphs" transform="rotate(90 513.7 197.2)">Место установки</text>
<text x="508.2" y="197.2" font-size="5.0" fill="#8a8a90" textLength="55.0" lengthAdjust="spacingAndGlyphs" transform="rotate(90 508.2 197.2)">информационного щита</text>
<text x="501.9" y="197.2" font-size="5.0" fill="#8a8a90" textLength="30.0" lengthAdjust="spacingAndGlyphs" transform="rotate(90 501.9 197.2)">объезда № 1</text>
<circle cx="498.2" cy="251.3" r="6.0" fill="#dd2a14"/>
<circle cx="498.2" cy="251.3" r="4.1" fill="#f3b41c"/>
<rect x="494.9" y="248.6" width="3.3" height="5.4" fill="#151515"/>
<rect x="498.5" y="249.2" width="3.0" height="4.2" fill="#d8201a"/>
<text x="491.2" y="248.4" font-size="8.0" fill="#222" textLength="11.8" lengthAdjust="spacingAndGlyphs" transform="rotate(180 491.2 248.4)">3.20</text>
<path d="M492.7,258.2L504.8,258.2L498.7,268.6Z" fill="#dc3a1c" stroke="#dc3a1c" stroke-width="0.7" stroke-linejoin="round"/>
<path d="M495.7,259.9L501.8,259.9L498.7,265.1Z" fill="#f0a82a"/>
<circle cx="498.7" cy="261.7" r="1.9" fill="#5a6a1e"/>
<text x="491.2" y="258.4" font-size="8.0" fill="#222" textLength="10.3" lengthAdjust="spacingAndGlyphs" transform="rotate(180 491.2 258.4)">1.25</text>
<circle cx="476.4" cy="270.7" r="6.0" fill="#dd2a14"/>
<circle cx="476.4" cy="270.7" r="4.1" fill="#f6dc1e"/>
<text x="476.4" y="272.8" font-size="5.7" fill="#111" font-weight="bold" font-style="normal" text-anchor="middle" transform="rotate(180 476.4 270.7)">40</text>
<text x="468.8" y="267.9" font-size="8.0" fill="#222" textLength="11.8" lengthAdjust="spacingAndGlyphs" transform="rotate(180 468.8 267.9)">3.24</text>
<text x="482.6" y="277.4" font-size="5.0" fill="#8a8a90" textLength="45.0" lengthAdjust="spacingAndGlyphs" transform="rotate(180 482.6 277.4)">щита объезда № 2</text>
<text x="482.6" y="282.6" font-size="5.0" fill="#8a8a90" textLength="82.0" lengthAdjust="spacingAndGlyphs" transform="rotate(180 482.6 282.6)">Место установки информационного</text>
<rect x="472.3" y="287.4" width="9.5" height="9.0" fill="#0a0ad6"/>
<line x1="473.8" y1="290.3" x2="480.3" y2="290.3" stroke="#7a8cf0" stroke-width="0.5"/>
<line x1="477.1" y1="290.3" x2="477.1" y2="293.2" stroke="#8a5ad8" stroke-width="0.6"/>
<rect x="475.4" y="293.0" width="3.2" height="1.3" fill="#d42a7a"/>
<text x="471.0" y="290.0" font-size="5.6" fill="#222" textLength="9.0" lengthAdjust="spacingAndGlyphs" transform="rotate(180 471.0 290.0)">6.8.1</text>
<line x1="504.8" y1="256.6" x2="542.3" y2="254.3" stroke="#3c3c42" stroke-width="0.85" />
<line x1="524.9" y1="254.6" x2="542.3" y2="254.3" stroke="#3c3c42" stroke-width="0.8" />
<text x="524.5" y="251.4" font-size="5.4" fill="#334" textLength="5.2" lengthAdjust="spacingAndGlyphs" transform="rotate(180 524.5 251.4)">75</text>
<line x1="483.3" y1="283.6" x2="542.3" y2="272.6" stroke="#3c3c42" stroke-width="0.85" />
<line x1="521.0" y1="273.8" x2="542.3" y2="272.4" stroke="#3c3c42" stroke-width="0.8" />
<text x="524.5" y="270.5" font-size="5.4" fill="#334" textLength="5.2" lengthAdjust="spacingAndGlyphs" transform="rotate(180 524.5 270.5)">50</text>
<text x="639.2" y="360.5" font-size="5.0" fill="#8a8a90" textLength="40.5" lengthAdjust="spacingAndGlyphs" transform="rotate(-90 639.2 360.5)">Место установки</text>
<text x="645.6" y="360.5" font-size="5.0" fill="#8a8a90" textLength="55.0" lengthAdjust="spacingAndGlyphs" transform="rotate(-90 645.6 360.5)">информационного щита</text>
<text x="651.4" y="360.5" font-size="5.0" fill="#8a8a90" textLength="30.0" lengthAdjust="spacingAndGlyphs" transform="rotate(-90 651.4 360.5)">объезда № 1</text>
<circle cx="659.4" cy="353.6" r="5.1" fill="#dd2a14"/>
<circle cx="659.4" cy="353.6" r="3.5" fill="#f6dc1e"/>
<text x="659.4" y="355.3" font-size="4.8" fill="#111" font-weight="bold" font-style="normal" text-anchor="middle" transform="rotate(-90 659.4 353.6)">40</text>
<text x="661.5" y="348.0" font-size="6.5" fill="#222" textLength="9.5" lengthAdjust="spacingAndGlyphs" transform="rotate(-90 661.5 348.0)">3.24</text>
<path d="M652.8,374.9L660.9,370.6L660.9,380.3Z" fill="#dc3a1c" stroke="#dc3a1c" stroke-width="0.7" stroke-linejoin="round"/>
<path d="M655.5,375.1L659.5,372.9L659.5,377.8Z" fill="#f0a82a"/>
<circle cx="658.2" cy="375.3" r="1.9" fill="#5a6a1e"/>
<text x="659.6" y="369.7" font-size="6.5" fill="#222" textLength="8.6" lengthAdjust="spacingAndGlyphs" transform="rotate(-90 659.6 369.7)">1.25</text>
<circle cx="668.2" cy="375.1" r="4.9" fill="#dd2a14"/>
<circle cx="668.2" cy="375.1" r="3.3" fill="#f3b41c"/>
<rect x="665.5" y="372.9" width="2.7" height="4.4" fill="#151515"/>
<rect x="668.4" y="373.4" width="2.5" height="3.4" fill="#d8201a"/>
<text x="670.5" y="369.7" font-size="6.5" fill="#222" textLength="9.2" lengthAdjust="spacingAndGlyphs" transform="rotate(-90 670.5 369.7)">3.20</text>
<line x1="653.5" y1="359.2" x2="643.8" y2="407.6" stroke="#3c3c42" stroke-width="0.85" />
<line x1="647.4" y1="390.3" x2="647.4" y2="410.1" stroke="#3c3c42" stroke-width="0.85" />
<text x="649.3" y="389.3" font-size="5.4" fill="#334" textLength="5.2" lengthAdjust="spacingAndGlyphs" transform="rotate(-90 649.3 389.3)">50</text>
<line x1="661.8" y1="379.4" x2="663.5" y2="399.9" stroke="#3c3c42" stroke-width="0.85" />
<line x1="665.6" y1="392.8" x2="665.6" y2="410.1" stroke="#3c3c42" stroke-width="0.85" />
<text x="667.5" y="391.3" font-size="5.4" fill="#334" textLength="5.2" lengthAdjust="spacingAndGlyphs" transform="rotate(-90 667.5 391.3)">75</text>
<rect x="603.2" y="395.4" width="12.1" height="11.6" fill="#0a0ad6"/>
<line x1="604.7" y1="403.3" x2="613.8" y2="403.3" stroke="#7a8cf0" stroke-width="0.5"/>
<line x1="609.2" y1="399.5" x2="609.2" y2="403.3" stroke="#8a5ad8" stroke-width="0.6"/>
<rect x="607.6" y="398.5" width="3.2" height="1.3" fill="#d42a7a"/>
<text x="611.5" y="394.0" font-size="6.4" fill="#222" textLength="12.7" lengthAdjust="spacingAndGlyphs" transform="rotate(-90 611.5 394.0)">6.8.3</text>
<rect x="616.1" y="388.8" width="5.8" height="18.3" fill="#e9e648" stroke="#3a3a0c" stroke-width="1"/>
<line x1="619.0" y1="390.6" x2="619.0" y2="405.3" stroke="#15150a" stroke-width="1.9" stroke-dasharray="1.4 0.45"/>
<path d="M619.0,389.6 l-1.9,3.6 h3.8z" fill="#111"/>
<text x="622.0" y="387.0" font-size="9.0" fill="#222" textLength="23.0" lengthAdjust="spacingAndGlyphs" transform="rotate(-90 622.0 387.0)">6.18.2</text>
<rect x="844.4" y="427.7" width="5.1" height="15.1" fill="#e9e648" stroke="#3a3a0c" stroke-width="1"/>
<line x1="846.9" y1="429.5" x2="846.9" y2="441.0" stroke="#15150a" stroke-width="1.9" stroke-dasharray="1.4 0.45"/>
<path d="M846.9,428.5 l-1.9,3.6 h3.8z" fill="#111"/>
<text x="845.4" y="445.3" font-size="4.6" fill="#111" textLength="10.5" lengthAdjust="spacingAndGlyphs" transform="rotate(90 845.4 445.3)" font-weight="bold">6.18.2</text>
<circle cx="453.4" cy="393.0" r="6.0" fill="#dd2a14"/>
<circle cx="453.4" cy="393.0" r="4.1" fill="#f3b41c"/>
<rect x="450.1" y="390.3" width="3.3" height="5.4" fill="#151515"/>
<rect x="453.7" y="390.9" width="3.0" height="4.2" fill="#d8201a"/>
<text x="447.0" y="390.1" font-size="8.0" fill="#222" textLength="11.7" lengthAdjust="spacingAndGlyphs" transform="rotate(180 447.0 390.1)">3.20</text>
<path d="M447.6,398.6L459.8,398.6L453.7,409.4Z" fill="#dc3a1c" stroke="#dc3a1c" stroke-width="0.7" stroke-linejoin="round"/>
<path d="M450.7,400.4L456.8,400.4L453.7,405.8Z" fill="#f0a82a"/>
<circle cx="453.7" cy="402.2" r="1.9" fill="#5a6a1e"/>
<text x="447.0" y="400.1" font-size="8.0" fill="#222" textLength="10.7" lengthAdjust="spacingAndGlyphs" transform="rotate(180 447.0 400.1)">1.25</text>
<circle cx="511.1" cy="396.0" r="6.2" fill="#dd2a14"/>
<circle cx="511.1" cy="396.0" r="4.2" fill="#f6dc1e"/>
<text x="511.1" y="398.1" font-size="5.9" fill="#111" font-weight="bold" font-style="normal" text-anchor="middle" transform="rotate(180 511.1 396.0)">40</text>
<text x="503.6" y="393.6" font-size="8.0" fill="#222" textLength="11.7" lengthAdjust="spacingAndGlyphs" transform="rotate(180 503.6 393.6)">3.24</text>
<text x="515.4" y="403.4" font-size="5.0" fill="#8a8a90" textLength="30.0" lengthAdjust="spacingAndGlyphs" transform="rotate(180 515.4 403.4)">объезда № 2</text>
<text x="515.4" y="408.8" font-size="5.0" fill="#8a8a90" textLength="55.0" lengthAdjust="spacingAndGlyphs" transform="rotate(180 515.4 408.8)">информационного щита</text>
<text x="515.4" y="414.1" font-size="5.0" fill="#8a8a90" textLength="40.5" lengthAdjust="spacingAndGlyphs" transform="rotate(180 515.4 414.1)">Место установки</text>
<rect x="506.0" y="419.5" width="9.6" height="9.6" fill="#0a0ad6"/>
<line x1="507.5" y1="422.6" x2="514.1" y2="422.6" stroke="#7a8cf0" stroke-width="0.5"/>
<line x1="510.8" y1="422.6" x2="510.8" y2="425.7" stroke="#8a5ad8" stroke-width="0.6"/>
<rect x="509.2" y="425.5" width="3.2" height="1.3" fill="#d42a7a"/>
<text x="504.7" y="422.3" font-size="5.6" fill="#222" textLength="9.7" lengthAdjust="spacingAndGlyphs" transform="rotate(180 504.7 422.3)">6.8.1</text>
<circle cx="495.9" cy="440.8" r="5.9" fill="#f4f4f4" stroke="#9a9a9e" stroke-width="1.3"/>
<path d="M493.4,443.3 Q495.9,439.8 498.9,443.8" fill="none" stroke="#8a8a8a" stroke-width="1.2"/>
<line x1="490.3" y1="446.8" x2="500.2" y2="434.9" stroke="#e01a1a" stroke-width="2.8" stroke-linecap="round"/>
<circle cx="495.9" cy="454.9" r="6.1" fill="#8e9290"/>
<circle cx="495.9" cy="454.9" r="3.0" fill="none" stroke="#d8d8d8" stroke-width="1"/>
<line x1="489.6" y1="461.4" x2="499.6" y2="449.2" stroke="#e01a1a" stroke-width="2.8" stroke-linecap="round"/>
<text x="487.6" y="435.2" font-size="4.2" fill="#333" textLength="11.0" lengthAdjust="spacingAndGlyphs" transform="rotate(180 487.6 435.2)">(врем)</text>
<text x="487.6" y="440.1" font-size="4.2" fill="#333" textLength="11.0" lengthAdjust="spacingAndGlyphs" transform="rotate(180 487.6 440.1)">3.18.2</text>
<text x="487.6" y="449.1" font-size="4.2" fill="#333" textLength="9.0" lengthAdjust="spacingAndGlyphs" transform="rotate(180 487.6 449.1)">(врем)</text>
<text x="487.6" y="453.8" font-size="4.2" fill="#333" textLength="8.0" lengthAdjust="spacingAndGlyphs" transform="rotate(180 487.6 453.8)">4.1.1</text>
<circle cx="517.8" cy="453.4" r="5.5" fill="#fff" stroke="#c2343e" stroke-width="1.5"/>
<text x="510.0" y="451.9" font-size="5" fill="#111" textLength="6.4" lengthAdjust="spacingAndGlyphs" transform="rotate(180 510.0 451.9)" font-weight="bold">3.2</text>
<line x1="459.8" y1="396.7" x2="536.8" y2="370.4" stroke="#3c3c42" stroke-width="0.85" />
<line x1="521.8" y1="370.4" x2="540.4" y2="370.4" stroke="#3c3c42" stroke-width="0.8" />
<text x="521.0" y="369.3" font-size="5.4" fill="#334" textLength="5.2" lengthAdjust="spacingAndGlyphs" transform="rotate(180 521.0 369.3)">75</text>
<line x1="516.3" y1="411.4" x2="540.6" y2="389.0" stroke="#3c3c42" stroke-width="0.85" />
<line x1="523.3" y1="388.3" x2="540.6" y2="388.3" stroke="#3c3c42" stroke-width="0.8" />
<text x="522.5" y="387.1" font-size="5.4" fill="#334" textLength="5.2" lengthAdjust="spacingAndGlyphs" transform="rotate(180 522.5 387.1)">50</text>
<line x1="500.9" y1="448.0" x2="539.4" y2="416.5" stroke="#3c3c42" stroke-width="0.8" />
<line x1="524.0" y1="451.8" x2="540.0" y2="420.4" stroke="#3c3c42" stroke-width="0.8" />
<line x1="311.8" y1="529.4" x2="329.2" y2="529.4" stroke="#3c3c42" stroke-width="0.85" />
<text x="310.5" y="527.9" font-size="5.4" fill="#334" textLength="5.2" lengthAdjust="spacingAndGlyphs" transform="rotate(180 310.5 527.9)">50</text>
<text x="318.6" y="534.4" font-size="5.0" fill="#8a8a90" textLength="30.0" lengthAdjust="spacingAndGlyphs" transform="rotate(180 318.6 534.4)">объезда № 3</text>
<text x="318.6" y="540.1" font-size="5.0" fill="#8a8a90" textLength="55.0" lengthAdjust="spacingAndGlyphs" transform="rotate(180 318.6 540.1)">информационного щита</text>
<text x="318.6" y="546.1" font-size="5.0" fill="#8a8a90" textLength="40.5" lengthAdjust="spacingAndGlyphs" transform="rotate(180 318.6 546.1)">Место установки</text>
<path d="M301.6,549.8L314.6,549.8L308.1,561.2Z" fill="#dc3a1c" stroke="#dc3a1c" stroke-width="0.7" stroke-linejoin="round"/>
<path d="M304.9,551.7L311.4,551.7L308.1,557.4Z" fill="#f0a82a"/>
<circle cx="308.1" cy="553.6" r="1.9" fill="#5a6a1e"/>
<text x="300.7" y="551.8" font-size="8.0" fill="#222" textLength="11.1" lengthAdjust="spacingAndGlyphs" transform="rotate(180 300.7 551.8)">1.25</text>
<rect x="356.7" y="548.7" width="5.5" height="18.3" fill="#e9e648" stroke="#3a3a0c" stroke-width="1"/>
<line x1="359.4" y1="550.5" x2="359.4" y2="565.2" stroke="#15150a" stroke-width="1.9" stroke-dasharray="1.4 0.45"/>
<path d="M359.4,549.5 l-1.9,3.6 h3.8z" fill="#111"/>
<text x="363.4" y="547.0" font-size="9.0" fill="#222" textLength="23.0" lengthAdjust="spacingAndGlyphs" transform="rotate(-90 363.4 547.0)">6.18.2</text>
<rect x="320.0" y="592.5" width="4.8" height="15.7" fill="#e9e648" stroke="#3a3a0c" stroke-width="1"/>
<line x1="322.4" y1="594.3" x2="322.4" y2="606.4" stroke="#15150a" stroke-width="1.9" stroke-dasharray="1.4 0.45"/>
<path d="M322.4,593.3 l-1.9,3.6 h3.8z" fill="#111"/>
<text x="320.7" y="610.0" font-size="4.6" fill="#111" textLength="9.6" lengthAdjust="spacingAndGlyphs" transform="rotate(90 320.7 610.0)" font-weight="bold">6.18.3</text>
<line x1="285.1" y1="591.5" x2="285.1" y2="608.0" stroke="#3c3c42" stroke-width="0.85" />
<text x="283.9" y="610.0" font-size="5.4" fill="#334" textLength="5.2" lengthAdjust="spacingAndGlyphs" transform="rotate(90 283.9 610.0)">50</text>
<line x1="285.1" y1="591.5" x2="308.0" y2="629.2" stroke="#3c3c42" stroke-width="0.85" />
<line x1="268.5" y1="597.2" x2="278.5" y2="622.2" stroke="#3c3c42" stroke-width="0.8" />
<circle cx="271.4" cy="626.7" r="5.8" fill="#dd2a14"/>
<circle cx="271.4" cy="626.7" r="3.9" fill="#f3b41c"/>
<rect x="268.2" y="624.1" width="3.2" height="5.2" fill="#151515"/>
<rect x="271.7" y="624.7" width="2.9" height="4.1" fill="#d8201a"/>
<text x="267.9" y="634.4" font-size="8.0" fill="#222" textLength="11.9" lengthAdjust="spacingAndGlyphs" transform="rotate(90 267.9 634.4)">3.20</text>
<path d="M277.8,620.9L277.8,634.4L289.4,627.3Z" fill="#dc3a1c" stroke="#dc3a1c" stroke-width="0.7" stroke-linejoin="round"/>
<path d="M279.7,624.2L279.7,631.0L285.5,627.4Z" fill="#f0a82a"/>
<circle cx="281.7" cy="627.5" r="1.9" fill="#5a6a1e"/>
<text x="278.8" y="634.4" font-size="8.0" fill="#222" textLength="10.2" lengthAdjust="spacingAndGlyphs" transform="rotate(90 278.8 634.4)">1.25</text>
<circle cx="301.3" cy="634.1" r="6.2" fill="#dd2a14"/>
<circle cx="301.3" cy="634.1" r="4.2" fill="#f6dc1e"/>
<text x="301.3" y="636.2" font-size="5.9" fill="#111" font-weight="bold" font-style="normal" text-anchor="middle" transform="rotate(90 301.3 634.1)">40</text>
<text x="298.6" y="641.4" font-size="8.0" fill="#222" textLength="11.6" lengthAdjust="spacingAndGlyphs" transform="rotate(90 298.6 641.4)">3.24</text>
<text x="320.2" y="628.0" font-size="5.0" fill="#8a8a90" textLength="40.5" lengthAdjust="spacingAndGlyphs" transform="rotate(90 320.2 628.0)">Место установки</text>
<text x="313.8" y="628.0" font-size="5.0" fill="#8a8a90" textLength="55.0" lengthAdjust="spacingAndGlyphs" transform="rotate(90 313.8 628.0)">информационного щита</text>
<text x="307.4" y="628.0" font-size="5.0" fill="#8a8a90" textLength="30.0" lengthAdjust="spacingAndGlyphs" transform="rotate(90 307.4 628.0)">объезда № 2</text>
<line x1="500.4" y1="591.5" x2="500.4" y2="609.2" stroke="#3c3c42" stroke-width="0.85" />
<text x="498.5" y="610.0" font-size="5.4" fill="#334" textLength="5.2" lengthAdjust="spacingAndGlyphs" transform="rotate(90 498.5 610.0)">50</text>
<rect x="504.0" y="592.1" width="6.2" height="11.9" fill="#fff" stroke="#111" stroke-width="0.9"/>
<line x1="507.1" y1="593.6" x2="507.1" y2="602.5" stroke="#111" stroke-width="1.3"/>
<path d="M507.1,593.1 l-1.9,3 h3.8z" fill="#111"/>
<text x="503.1" y="605.0" font-size="8.0" fill="#222" textLength="13.5" lengthAdjust="spacingAndGlyphs" transform="rotate(90 503.1 605.0)">8.3.2</text>
<path d="M512.3,591.5L512.3,604.0L523.8,597.7Z" fill="#dc3a1c" stroke="#dc3a1c" stroke-width="0.7" stroke-linejoin="round"/>
<path d="M514.2,594.6L514.2,600.9L520.0,597.7Z" fill="#f0a82a"/>
<circle cx="516.1" cy="597.7" r="1.9" fill="#5a6a1e"/>
<text x="512.9" y="605.0" font-size="8.0" fill="#222" textLength="10.4" lengthAdjust="spacingAndGlyphs" transform="rotate(90 512.9 605.0)">1.25</text>
<rect x="535.2" y="591.5" width="11.9" height="11.8" fill="#0a0ad6"/>
<line x1="536.7" y1="599.5" x2="545.6" y2="599.5" stroke="#7a8cf0" stroke-width="0.5"/>
<line x1="541.2" y1="595.6" x2="541.2" y2="599.5" stroke="#8a5ad8" stroke-width="0.6"/>
<rect x="539.6" y="594.7" width="3.2" height="1.3" fill="#d42a7a"/>
<text x="539.2" y="605.0" font-size="6.4" fill="#222" textLength="11.5" lengthAdjust="spacingAndGlyphs" transform="rotate(90 539.2 605.0)">6.8.3</text>
<path d="M522,524.2 Q531,523.5 538,517" stroke="#44448c" stroke-width="0.7" fill="none" />
<path d="M522,534.8 A18.8,18.8 0 0 1 522,572.3" stroke="#44448c" stroke-width="0.7" fill="none" />
<text x="497.8" y="518.1" font-size="4.6" fill="#777" textLength="23.5" lengthAdjust="spacingAndGlyphs">Бетонировать</text>
<path d="M495.7,518.7 H527.7 L537.7,510.6" stroke="#555" stroke-width="0.6" fill="none" />
<text x="504.2" y="558.1" font-size="4.6" fill="#777" textLength="34.9" lengthAdjust="spacingAndGlyphs">Временная разметка</text>
<line x1="550.8" y1="486.0" x2="550.8" y2="560.0" stroke="#3c3c42" stroke-width="0.85" />
<line x1="578.3" y1="486.0" x2="578.3" y2="560.0" stroke="#3c3c42" stroke-width="0.85" />
<line x1="565.9" y1="486.0" x2="565.9" y2="560.0" stroke="#787878" stroke-width="1.0" stroke-dasharray="6 4" stroke-dashoffset="0"/>
<rect x="580.6" y="494.8" width="33.4" height="24.9" fill="#fff" stroke="#c06a66" stroke-width="0.8"/>
<text x="585.5" y="509.9" font-size="7.4" fill="#333" textLength="19.5" lengthAdjust="spacingAndGlyphs">д. 81А</text>
<defs><clipPath id="wz"><rect x="542" y="489.3" width="34.2" height="32.6"/></clipPath></defs>
<rect x="542" y="489.3" width="34.2" height="32.6" fill="#f3c2c6"/>
<g clip-path="url(#wz)" stroke="#c8283e" stroke-width="0.85">
<line x1="508.00" y1="521.9" x2="540.60" y2="489.3"/>
<line x1="509.75" y1="521.9" x2="542.35" y2="489.3"/>
<line x1="511.50" y1="521.9" x2="544.10" y2="489.3"/>
<line x1="513.25" y1="521.9" x2="545.85" y2="489.3"/>
<line x1="515.00" y1="521.9" x2="547.60" y2="489.3"/>
<line x1="516.75" y1="521.9" x2="549.35" y2="489.3"/>
<line x1="518.50" y1="521.9" x2="551.10" y2="489.3"/>
<line x1="520.25" y1="521.9" x2="552.85" y2="489.3"/>
<line x1="522.00" y1="521.9" x2="554.60" y2="489.3"/>
<line x1="523.75" y1="521.9" x2="556.35" y2="489.3"/>
<line x1="525.50" y1="521.9" x2="558.10" y2="489.3"/>
<line x1="527.25" y1="521.9" x2="559.85" y2="489.3"/>
<line x1="529.00" y1="521.9" x2="561.60" y2="489.3"/>
<line x1="530.75" y1="521.9" x2="563.35" y2="489.3"/>
<line x1="532.50" y1="521.9" x2="565.10" y2="489.3"/>
<line x1="534.25" y1="521.9" x2="566.85" y2="489.3"/>
<line x1="536.00" y1="521.9" x2="568.60" y2="489.3"/>
<line x1="537.75" y1="521.9" x2="570.35" y2="489.3"/>
<line x1="539.50" y1="521.9" x2="572.10" y2="489.3"/>
<line x1="541.25" y1="521.9" x2="573.85" y2="489.3"/>
<line x1="543.00" y1="521.9" x2="575.60" y2="489.3"/>
<line x1="544.75" y1="521.9" x2="577.35" y2="489.3"/>
<line x1="546.50" y1="521.9" x2="579.10" y2="489.3"/>
<line x1="548.25" y1="521.9" x2="580.85" y2="489.3"/>
<line x1="550.00" y1="521.9" x2="582.60" y2="489.3"/>
<line x1="551.75" y1="521.9" x2="584.35" y2="489.3"/>
<line x1="553.50" y1="521.9" x2="586.10" y2="489.3"/>
<line x1="555.25" y1="521.9" x2="587.85" y2="489.3"/>
<line x1="557.00" y1="521.9" x2="589.60" y2="489.3"/>
<line x1="558.75" y1="521.9" x2="591.35" y2="489.3"/>
<line x1="560.50" y1="521.9" x2="593.10" y2="489.3"/>
<line x1="562.25" y1="521.9" x2="594.85" y2="489.3"/>
<line x1="564.00" y1="521.9" x2="596.60" y2="489.3"/>
<line x1="565.75" y1="521.9" x2="598.35" y2="489.3"/>
<line x1="567.50" y1="521.9" x2="600.10" y2="489.3"/>
<line x1="569.25" y1="521.9" x2="601.85" y2="489.3"/>
<line x1="571.00" y1="521.9" x2="603.60" y2="489.3"/>
<line x1="572.75" y1="521.9" x2="605.35" y2="489.3"/>
<line x1="574.50" y1="521.9" x2="607.10" y2="489.3"/>
<line x1="576.25" y1="521.9" x2="608.85" y2="489.3"/>
<line x1="578.00" y1="521.9" x2="610.60" y2="489.3"/>
<line x1="579.75" y1="521.9" x2="612.35" y2="489.3"/>
<line x1="581.50" y1="521.9" x2="614.10" y2="489.3"/>
<line x1="583.25" y1="521.9" x2="615.85" y2="489.3"/>
<line x1="585.00" y1="521.9" x2="617.60" y2="489.3"/>
<line x1="586.75" y1="521.9" x2="619.35" y2="489.3"/>
<line x1="588.50" y1="521.9" x2="621.10" y2="489.3"/>
<line x1="590.25" y1="521.9" x2="622.85" y2="489.3"/>
<line x1="592.00" y1="521.9" x2="624.60" y2="489.3"/>
<line x1="593.75" y1="521.9" x2="626.35" y2="489.3"/>
<line x1="595.50" y1="521.9" x2="628.10" y2="489.3"/>
<line x1="597.25" y1="521.9" x2="629.85" y2="489.3"/>
<line x1="599.00" y1="521.9" x2="631.60" y2="489.3"/>
<line x1="600.75" y1="521.9" x2="633.35" y2="489.3"/>
<line x1="602.50" y1="521.9" x2="635.10" y2="489.3"/>
<line x1="604.25" y1="521.9" x2="636.85" y2="489.3"/>
<line x1="606.00" y1="521.9" x2="638.60" y2="489.3"/>
<line x1="607.75" y1="521.9" x2="640.35" y2="489.3"/>
<line x1="609.50" y1="521.9" x2="642.10" y2="489.3"/>
<line x1="611.25" y1="521.9" x2="643.85" y2="489.3"/>
</g>
<rect x="543" y="499.4" width="32" height="13.4" fill="#b03070" fill-opacity="0.55"/>
<rect x="543.55" y="499.4" width="1.5" height="13.4" fill="#6c0e50"/>
<rect x="546.78" y="499.4" width="1.5" height="13.4" fill="#6c0e50"/>
<rect x="550.01" y="499.4" width="1.5" height="13.4" fill="#6c0e50"/>
<rect x="553.24" y="499.4" width="1.5" height="13.4" fill="#6c0e50"/>
<rect x="556.47" y="499.4" width="1.5" height="13.4" fill="#6c0e50"/>
<rect x="559.70" y="499.4" width="1.5" height="13.4" fill="#6c0e50"/>
<rect x="562.93" y="499.4" width="1.5" height="13.4" fill="#6c0e50"/>
<rect x="566.16" y="499.4" width="1.5" height="13.4" fill="#6c0e50"/>
<rect x="569.39" y="499.4" width="1.5" height="13.4" fill="#6c0e50"/>
<rect x="572.62" y="499.4" width="1.5" height="13.4" fill="#6c0e50"/>
<path d="M543,502.3 H575 M543,505.6 H575 M543,509 H575" stroke="#e89ab8" stroke-width="0.5" stroke-dasharray="0.8 0.8"/>
<line x1="551.5" y1="486.4" x2="603.7" y2="475.6" stroke="#c84a4a" stroke-width="0.7" />
<line x1="579.7" y1="494.6" x2="614.0" y2="494.6" stroke="#c06a66" stroke-width="0.8" />
<circle cx="544.1" cy="487.4" r="3.1" fill="#140c00"/>
<circle cx="544.1" cy="487.4" r="1.4" fill="#f6e066"/>
<circle cx="550.2" cy="487.4" r="3.1" fill="#140c00"/>
<circle cx="550.2" cy="487.4" r="1.4" fill="#f6e066"/>
<circle cx="556.2" cy="487.4" r="3.1" fill="#140c00"/>
<circle cx="556.2" cy="487.4" r="1.4" fill="#f6e066"/>
<circle cx="562.3" cy="487.4" r="3.1" fill="#140c00"/>
<circle cx="562.3" cy="487.4" r="1.4" fill="#f6e066"/>
<circle cx="568.6" cy="487.4" r="3.1" fill="#140c00"/>
<circle cx="568.6" cy="487.4" r="1.4" fill="#f6e066"/>
<circle cx="574.7" cy="487.4" r="3.1" fill="#140c00"/>
<circle cx="574.7" cy="487.4" r="1.4" fill="#f6e066"/>
<circle cx="539.8" cy="492.8" r="3.1" fill="#140c00"/>
<circle cx="539.8" cy="492.8" r="1.4" fill="#f6e066"/>
<circle cx="539.8" cy="498.9" r="3.1" fill="#140c00"/>
<circle cx="539.8" cy="498.9" r="1.4" fill="#f6e066"/>
<circle cx="539.8" cy="505.2" r="3.1" fill="#140c00"/>
<circle cx="539.8" cy="505.2" r="1.4" fill="#f6e066"/>
<circle cx="539.8" cy="511.3" r="3.1" fill="#140c00"/>
<circle cx="539.8" cy="511.3" r="1.4" fill="#f6e066"/>
<circle cx="539.8" cy="517.7" r="3.1" fill="#140c00"/>
<circle cx="539.8" cy="517.7" r="1.4" fill="#f6e066"/>
<circle cx="578.3" cy="492.1" r="3.1" fill="#140c00"/>
<circle cx="578.3" cy="492.1" r="1.4" fill="#f6e066"/>
<circle cx="578.3" cy="498.2" r="3.1" fill="#140c00"/>
<circle cx="578.3" cy="498.2" r="1.4" fill="#f6e066"/>
<circle cx="578.3" cy="504.5" r="3.1" fill="#140c00"/>
<circle cx="578.3" cy="504.5" r="1.4" fill="#f6e066"/>
<circle cx="578.3" cy="510.6" r="3.1" fill="#140c00"/>
<circle cx="578.3" cy="510.6" r="1.4" fill="#f6e066"/>
<circle cx="578.3" cy="517" r="3.1" fill="#140c00"/>
<circle cx="578.3" cy="517" r="1.4" fill="#f6e066"/>
<circle cx="545.2" cy="524.9" r="3.1" fill="#140c00"/>
<circle cx="545.2" cy="524.9" r="1.4" fill="#f6e066"/>
<circle cx="551.7" cy="524.9" r="3.1" fill="#140c00"/>
<circle cx="551.7" cy="524.9" r="1.4" fill="#f6e066"/>
<circle cx="558.1" cy="524.9" r="3.1" fill="#140c00"/>
<circle cx="558.1" cy="524.9" r="1.4" fill="#f6e066"/>
<circle cx="564.3" cy="524.9" r="3.1" fill="#140c00"/>
<circle cx="564.3" cy="524.9" r="1.4" fill="#f6e066"/>
<circle cx="570.7" cy="524.9" r="3.1" fill="#140c00"/>
<circle cx="570.7" cy="524.9" r="1.4" fill="#f6e066"/>
<circle cx="576.9" cy="524.9" r="3.1" fill="#140c00"/>
<circle cx="576.9" cy="524.9" r="1.4" fill="#f6e066"/>
<circle cx="594.8" cy="470.9" r="5.6" fill="#d9303a" stroke="#c8c8c8" stroke-width="0.6"/>
<rect x="591.0" y="469.6" width="7.6" height="2.7" fill="#fff"/>
<text x="598.2" y="459.3" font-size="6.8" fill="#333" textLength="7.0" lengthAdjust="spacingAndGlyphs" transform="rotate(180 598.2 459.3)">3.1</text>
<path d="M602.0,466.4L612.3,466.4L607.2,476.4Z" fill="#dc3a1c" stroke="#dc3a1c" stroke-width="0.7" stroke-linejoin="round"/>
<path d="M604.6,468.1L609.7,468.1L607.2,473.1Z" fill="#f0a82a"/>
<circle cx="607.2" cy="469.7" r="1.9" fill="#5a6a1e"/>
<text x="612.3" y="459.3" font-size="6.8" fill="#333" textLength="9.6" lengthAdjust="spacingAndGlyphs" transform="rotate(180 612.3 459.3)">1.25</text>
<path d="M550.5,537.0L561.2,537.0L555.8,528.1Z" fill="#dc3a1c" stroke="#dc3a1c" stroke-width="0.7" stroke-linejoin="round"/>
<path d="M553.2,535.5L558.5,535.5L555.8,531.1Z" fill="#f0a82a"/>
<circle cx="555.8" cy="534.0" r="1.9" fill="#5a6a1e"/>
<text x="550.8" y="544.7" font-size="6.8" fill="#333" textLength="9.7" lengthAdjust="spacingAndGlyphs">1.25</text>
<circle cx="568.0" cy="533.4" r="5.3" fill="#d9303a" stroke="#c8c8c8" stroke-width="0.6"/>
<rect x="564.4" y="532.1" width="7.2" height="2.5" fill="#fff"/>
<text x="565.0" y="544.7" font-size="6.8" fill="#333" textLength="6.6" lengthAdjust="spacingAndGlyphs">3.1</text>
<rect x="522.5" y="495.3" width="12.8" height="6" fill="#c8c8c8" stroke="#6a6a6a" stroke-width="0.7"/>
<rect x="530.3" y="494.3" width="6.4" height="8" fill="#c9ccc0" stroke="#4a5030" stroke-width="0.8"/>
<line x1="528.5" y1="505.6" x2="537.9" y2="493.6" stroke="#e01a1a" stroke-width="2.6" stroke-linecap="round"/>
<line x1="580.6" y1="517.5" x2="592.6" y2="529.0" stroke="#3c3c42" stroke-width="0.85" />
<rect x="591.7" y="525.4" width="8" height="6.8" fill="#c9ccc0" stroke="#4a5030" stroke-width="0.8"/>
<rect x="598.7" y="526.4" width="7.9" height="5.2" fill="#c8c8c8" stroke="#6a6a6a" stroke-width="0.7"/>
<line x1="590.9" y1="535.0" x2="602.0" y2="521.5" stroke="#e01a1a" stroke-width="2.6" stroke-linecap="round"/>
<rect x="541.3" y="550.1" width="37" height="10" fill="#f3c9a0"/>
<line x1="541.8" y1="555.1" x2="578.3" y2="555.1" stroke="#dc8c4e" stroke-width="10" stroke-dasharray="1.3 1.35"/>
<rect x="531.6" y="544.8" width="8.9" height="8.6" fill="#b9bda8" stroke="#3c4020" stroke-width="0.9"/>
<rect x="533.2" y="546.4" width="5.7" height="5.4" fill="#1a1a9a"/>
<path d="M534.1,547.3 L538.1,550.9 M538.1,547.3 L534.1,550.9" stroke="#e8e8ff" stroke-width="1"/>
<text x="524.6" y="550.6" font-size="4.4" fill="#111" textLength="6.6" lengthAdjust="spacingAndGlyphs" font-weight="bold">5.19.1</text>
<rect x="579.0" y="536.3" width="8.5" height="8.9" fill="#b9bda8" stroke="#3c4020" stroke-width="0.9"/>
<rect x="580.6" y="537.9" width="5.3" height="5.7" fill="#1a1a9a"/>
<path d="M581.2,539.0 L585.2,542.5 M585.2,539.0 L581.2,542.5" stroke="#e8e8ff" stroke-width="1"/>
<text x="588.2" y="542.1" font-size="4.4" fill="#111" textLength="6.0" lengthAdjust="spacingAndGlyphs" font-weight="bold">5.19.2</text>
<line x1="582.6" y1="545.5" x2="578.3" y2="559.8" stroke="#44448c" stroke-width="0.7" />
<rect x="581.3" y="561.4" width="12.2" height="12.0" fill="#0a0ad6"/>
<line x1="582.8" y1="569.6" x2="592.0" y2="569.6" stroke="#7a8cf0" stroke-width="0.5"/>
<line x1="587.4" y1="565.6" x2="587.4" y2="569.6" stroke="#8a5ad8" stroke-width="0.6"/>
<rect x="585.8" y="564.6" width="3.2" height="1.3" fill="#d42a7a"/>
<text x="591.5" y="559.6" font-size="6.6" fill="#222" textLength="13.0" lengthAdjust="spacingAndGlyphs" transform="rotate(-90 591.5 559.6)">6.8.2</text>
<rect x="595.7" y="557.0" width="5.9" height="18.2" fill="#e9e648" stroke="#3a3a0c" stroke-width="1"/>
<line x1="598.7" y1="558.8" x2="598.7" y2="573.4" stroke="#15150a" stroke-width="1.9" stroke-dasharray="1.4 0.45"/>
<path d="M598.7,574.4 l-1.9,-3.6 h3.8z" fill="#111"/>
<text x="601.0" y="554.4" font-size="4.6" fill="#111" textLength="10.4" lengthAdjust="spacingAndGlyphs" transform="rotate(-90 601.0 554.4)" font-weight="bold">6.18.1</text>
<path d="M607.1,564.2L618.6,558.1L618.6,570.3Z" fill="#dc3a1c" stroke="#dc3a1c" stroke-width="0.7" stroke-linejoin="round"/>
<path d="M610.9,564.2L616.7,561.2L616.7,567.2Z" fill="#f0a82a"/>
<circle cx="614.8" cy="564.2" r="1.9" fill="#5a6a1e"/>
<text x="615.9" y="557.4" font-size="8.0" fill="#222" textLength="10.2" lengthAdjust="spacingAndGlyphs" transform="rotate(-90 615.9 557.4)">1.25</text>
<rect x="619.2" y="558.4" width="5.5" height="11.6" fill="#fff" stroke="#111" stroke-width="0.9"/>
<line x1="622.0" y1="559.9" x2="622.0" y2="568.5" stroke="#111" stroke-width="1.3"/>
<path d="M622.0,559.4 l-1.9,3 h3.8z" fill="#111"/>
<text x="625.2" y="556.8" font-size="8.0" fill="#222" textLength="12.8" lengthAdjust="spacingAndGlyphs" transform="rotate(-90 625.2 556.8)">8.3.1</text>
<line x1="627.7" y1="555.5" x2="627.7" y2="572.0" stroke="#3c3c42" stroke-width="0.85" />
<text x="629.2" y="553.3" font-size="5.4" fill="#334" textLength="5.2" lengthAdjust="spacingAndGlyphs" transform="rotate(-90 629.2 553.3)">50</text>
</svg>
</body></html>
